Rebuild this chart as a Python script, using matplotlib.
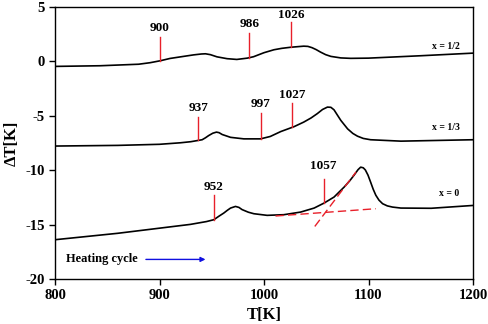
import matplotlib
matplotlib.use("Agg")
import matplotlib.pyplot as plt

plt.rcParams["axes.unicode_minus"] = False

# x = 1/2 curve
T_half = [800, 843, 880, 891, 900.8, 910, 923, 932.7, 940, 944, 948.7, 955, 964.7, 974, 984, 990, 1000, 1009.5,
          1017, 1025.5, 1033, 1038, 1042, 1046, 1050, 1054, 1059, 1064, 1073.5, 1083, 1100, 1150, 1200]
dT_half = [-0.46, -0.4, -0.26, -0.12, 0.06, 0.27, 0.46, 0.6, 0.68, 0.7, 0.62, 0.42, 0.25, 0.18, 0.3, 0.43, 0.8, 1.07,
           1.2, 1.3, 1.36, 1.4, 1.38, 1.26, 1.08, 0.86, 0.62, 0.46, 0.32, 0.28, 0.3, 0.52, 0.76]

# x = 1/3 curve
T_third = [800, 860, 900, 920, 930, 940.8, 944, 947, 951, 954.5, 957, 960, 968, 980.7, 996.7, 1006, 1016, 1028.7, 1038,
           1045, 1051, 1056, 1060.7, 1064, 1067, 1070, 1073.5, 1080, 1085, 1089.4, 1095, 1102, 1131, 1200]
dT_third = [-7.78, -7.72, -7.62, -7.48, -7.38, -7.2, -7.02, -6.82, -6.6, -6.5, -6.55, -6.72, -6.98, -7.12, -7.12, -6.9,
            -6.45, -6.0, -5.58, -5.2, -4.8, -4.42, -4.2, -4.22, -4.45, -4.9, -5.42, -6.2, -6.62, -6.87, -7.08, -7.2, -7.33, -7.2]

# x = 0 curve
T_zero = [800, 860, 929.6, 945, 952, 957, 961.5, 965, 968, 972.7, 976, 979, 985, 990.3, 1003, 1019, 1035, 1048, 1057.5,
          1067, 1076.7, 1082, 1086, 1090, 1092.5, 1095, 1097, 1099.5, 1102, 1104.5, 1107, 1110, 1113.5, 1118, 1123, 1131,
          1160, 1200]
dT_zero = [-16.39, -15.8, -14.98, -14.72, -14.55, -14.22, -13.94, -13.68, -13.48, -13.33, -13.42, -13.62, -13.86, -14.0,
           -14.15, -14.09, -13.85, -13.48, -13.02, -12.47, -11.55, -10.98, -10.48, -9.95, -9.72, -9.78, -9.98, -10.45,
           -11.09, -11.75, -12.3, -12.75, -13.08, -13.28, -13.39, -13.48, -13.5, -13.24]

# transition markers: temperature, line bottom, line top, label y
mark_T = [900, 986, 1026, 937, 997, 1027, 952, 1057]
mark_lo = [0.02, 0.33, 1.3, -7.25, -7.1, -6.0, -14.55, -13.05]
mark_hi = [2.2, 2.65, 3.6, -5.15, -4.7, -3.8, -12.25, -10.85]
mark_lab_y = [3.05, 3.4, 4.25, -4.3, -3.9, -3.05, -11.55, -9.65]

# tangent construction for x = 0
base_T = [1011, 1107]
base_dT = [-14.21, -13.54]
steep_T = [1048.6, 1088]
steep_dT = [-15.17, -10.17]

curve_labels = ["x = 1/2", "x = 1/3", "x = 0"]
curve_label_y = [1.4, -6.05, -12.1]

serif = ["Liberation Serif", "DejaVu Serif"]

fig = plt.figure(figsize=(4.89, 3.24), dpi=100)
ax = fig.add_axes([55/489, 45/324, 418/489, 272/324])

for T, d in [(T_half, dT_half), (T_third, dT_third), (T_zero, dT_zero)]:
    ax.plot(T, d, color="black", lw=1.2, solid_capstyle="round", solid_joinstyle="round")

for t, lo, hi, ly in zip(mark_T, mark_lo, mark_hi, mark_lab_y):
    ax.plot([t, t], [lo, hi], color="#e8202a", lw=1.0)
    ax.text(t, ly, str(t), ha="center", va="center", fontsize=9.5,
            fontweight="bold", family=serif)

ax.plot(base_T, base_dT, color="#e8202a", lw=1.0, dashes=(6, 3))
ax.plot(steep_T, steep_dT, color="#e8202a", lw=1.0, dashes=(6, 3))

for lab, y in zip(curve_labels, curve_label_y):
    ax.text(1187, y, lab, ha="right", va="center", fontsize=7,
            fontweight="bold", family=serif)

ax.text(811, -18.2, "Heating cycle", ha="left", va="center", fontsize=9,
        fontweight="bold", family=serif)
ax.annotate("", xy=(944, -18.2), xytext=(887, -18.2),
            arrowprops=dict(arrowstyle="-|>", color="#1010e0", lw=1.0,
                            mutation_scale=7, shrinkA=0, shrinkB=0))

ax.set_xlim(800, 1200)
ax.set_ylim(-20, 5)
ax.set_xticks([800, 900, 1000, 1100, 1200])
ax.set_yticks([5, 0, -5, -10, -15, -20])
ax.tick_params(direction="out", length=4, width=1, labelsize=10.5)
for lab in ax.get_xticklabels() + ax.get_yticklabels():
    lab.set_fontweight("bold")
    lab.set_family(serif)
for s in ax.spines.values():
    s.set_linewidth(1.0)

ax.set_xlabel("T[K]", fontsize=12, fontweight="bold", family=serif, labelpad=3)
ax.set_ylabel("ΔT[K]", fontsize=12, fontweight="bold", family=serif, labelpad=4)

fig.savefig("out.png", dpi=100)
